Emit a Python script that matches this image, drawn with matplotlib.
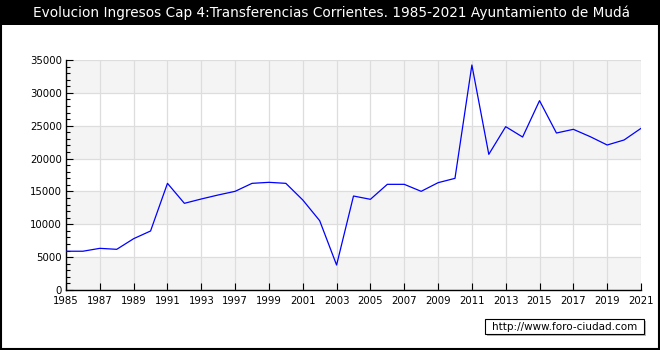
import matplotlib
matplotlib.use('Agg')
import matplotlib.pyplot as plt
from matplotlib.patches import Rectangle
from matplotlib.ticker import MultipleLocator

# Years present in the series (1994 and 1996 are missing)
years = [1985, 1986, 1987, 1988, 1989, 1990, 1991, 1992, 1993, 1995,
         1997, 1998, 1999, 2000, 2001, 2002, 2003, 2004, 2005, 2006,
         2007, 2008, 2009, 2010, 2011, 2012, 2013, 2014, 2015, 2016,
         2017, 2018, 2019, 2020, 2021]
ingresos = [5900, 5900, 6340, 6190, 7810, 8980, 16230, 13190, 13850, 14460,
            15015, 16230, 16385, 16230, 13700, 10550, 3800, 14300, 13800, 16080,
            16080, 15015, 16330, 16990, 34240, 20645, 24855, 23280, 28810, 23890,
            24450, 23330, 22065, 22830, 24600]

title = 'Evolucion Ingresos Cap 4:Transferencias Corrientes. 1985-2021 Ayuntamiento de Mudá'

fig = plt.figure(figsize=(6.6, 3.5), dpi=100)
fig.patch.set_facecolor('white')

# black title bar + frame
fig.patches.append(Rectangle((0, 1 - 25 / 350), 1, 25 / 350, transform=fig.transFigure,
                             facecolor='black', edgecolor='none', zorder=0))
fig.patches.append(Rectangle((0.001, 0.002), 0.997, 0.996, transform=fig.transFigure,
                             facecolor='none', edgecolor='black', linewidth=1.5, zorder=5))
fig.text(0.503, 1 - 13 / 350, title, color='white', fontsize=9.8,
         ha='center', va='center')

ax = fig.add_axes([66 / 660, 60 / 350, 575 / 660, 230 / 350])
x = list(range(len(years)))

# alternating horizontal bands
for lo in range(0, 35000, 10000):
    ax.axhspan(lo, lo + 5000, color='#f4f4f4', zorder=0, lw=0)

ax.plot(x, ingresos, color='#0000ff', linewidth=0.9, zorder=3)

ax.set_xlim(0, len(years) - 1)
ax.set_ylim(0, 35000)
ax.set_xticks(x[::2])
ax.set_xticklabels([str(y) for y in years[::2]])
ax.yaxis.set_major_locator(MultipleLocator(5000))
ax.yaxis.set_minor_locator(MultipleLocator(1000))
ax.grid(True, which='major', color='#dddddd', linewidth=0.9, zorder=1)
ax.set_axisbelow(True)

ax.tick_params(axis='both', which='major', direction='in', length=5, width=0.8,
               labelsize=7.3, pad=3)
ax.tick_params(axis='x', which='major', pad=4)
ax.tick_params(axis='y', which='minor', direction='in', length=3, width=0.8)
for side in ['top', 'right']:
    ax.spines[side].set_visible(False)
for side in ['left', 'bottom']:
    ax.spines[side].set_linewidth(1)

# watermark box
fig.patches.append(Rectangle((487 / 660, 1 - 336 / 350), 159 / 660, 15 / 350,
                             transform=fig.transFigure, facecolor='#bbbbbb',
                             edgecolor='none', zorder=3))
fig.patches.append(Rectangle((485 / 660, 1 - 334 / 350), 159 / 660, 15 / 350,
                             transform=fig.transFigure, facecolor='white',
                             edgecolor='black', linewidth=0.8, zorder=4))
fig.text(564.5 / 660, 1 - 326.5 / 350, 'http://www.foro-ciudad.com', fontsize=7.5,
         ha='center', va='center', zorder=6)

fig.savefig('out.png', dpi=100)
